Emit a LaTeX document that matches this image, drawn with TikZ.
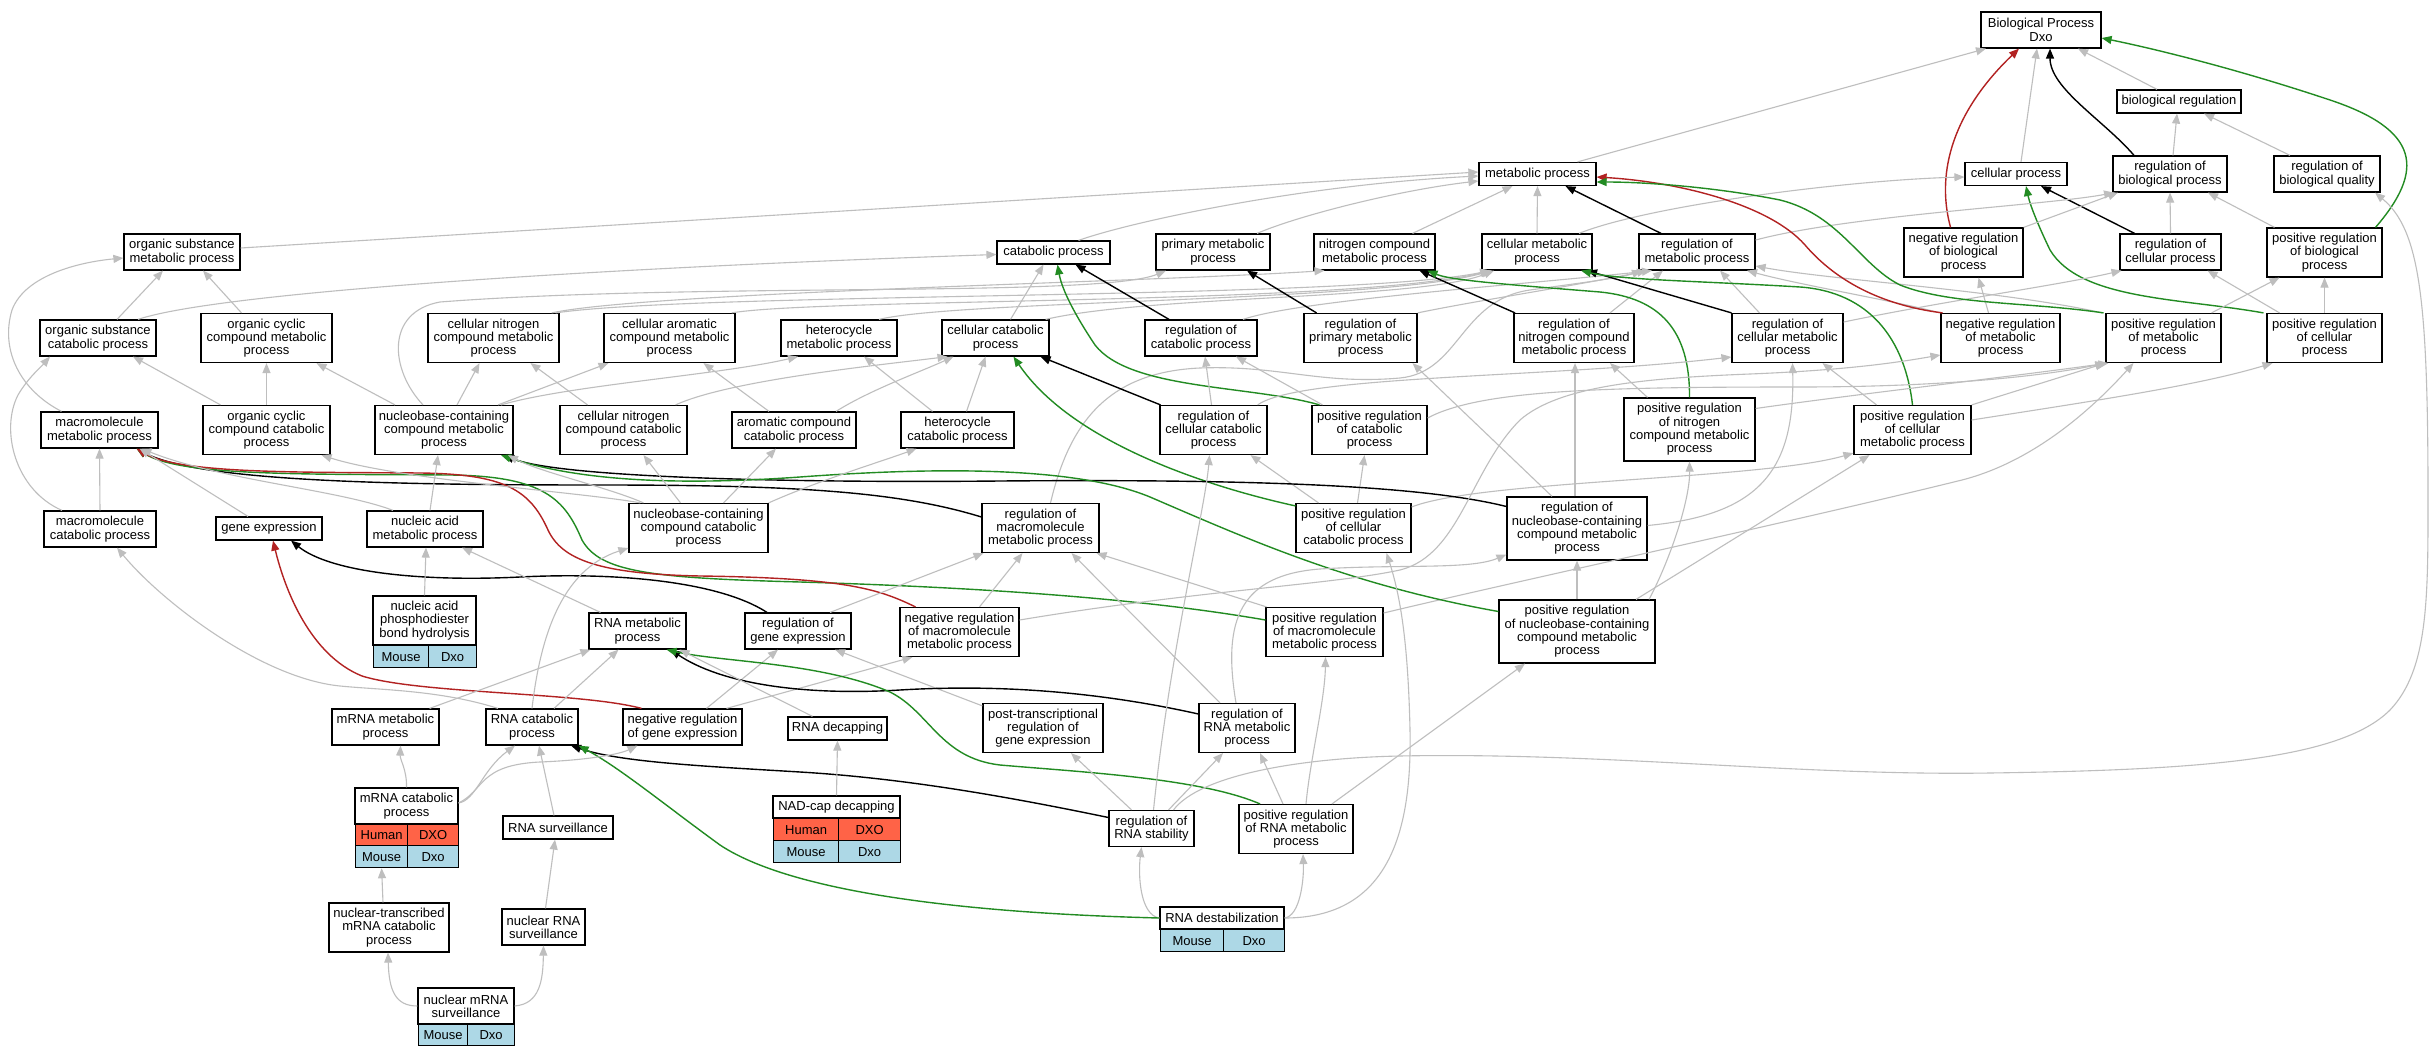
\documentclass[tikz,border=0pt]{standalone}
\usepackage{fontspec}
\setmainfont{Liberation Sans}
\usetikzlibrary{arrows.meta}
\definecolor{edgegray}{RGB}{190,190,190}
\definecolor{edgered}{RGB}{178,34,34}
\definecolor{edgegreen}{RGB}{34,139,34}
\definecolor{tomatoc}{RGB}{255,99,71}
\definecolor{lblue}{RGB}{173,216,230}
\newcommand\mkbox[6]{\node[bx,minimum width=#4pt,minimum height=#5pt] (#1) at (#2,#3) {#6};}
\newcommand\mkcell[7]{\node[bx,anchor=north west,fill=#6,minimum width=#4pt,minimum height=#5pt] (#1) at (#2,#3) {#7};}
\begin{document}
\begin{tikzpicture}[x=1pt,y=-1pt,
  bx/.style={draw=black,line width=1.2pt,fill=white,inner sep=0pt,align=center,font=\fontsize{13}{13.3}\selectfont},
  eGy/.style={draw=edgegray,line width=1.1pt,-{Triangle[length=10pt,width=8pt]}},
  eK/.style={draw=black,line width=1.4pt,-{Triangle[length=10pt,width=8pt]}},
  eR/.style={draw=edgered,line width=1.4pt,-{Triangle[length=10pt,width=8pt]}},
  eGr/.style={draw=edgegreen,line width=1.4pt,-{Triangle[length=10pt,width=8pt]}}]
\fill[white] (0,0) rectangle (2432,1056);
\useasboundingbox (0,0) rectangle (2432,1056);
% ---------- nodes ----------
\mkbox{bp}{2041}{30}{120}{36}{Biological Process\\Dxo}
\mkbox{bioreg}{2179}{101.5}{124}{23}{biological regulation}
\mkbox{met}{1537.5}{174}{117}{23}{metabolic process}
\mkbox{cellp}{2016}{174}{102}{23}{cellular process}
\mkbox{regbp}{2170}{174}{114}{36}{regulation of\\biological process}
\mkbox{regbq}{2327}{174}{106}{36}{regulation of\\biological quality}
\mkbox{osm}{182}{252}{116}{36}{organic substance\\metabolic process}
\mkbox{cat}{1053.5}{252.5}{113}{23}{catabolic process}
\mkbox{prim}{1213}{252}{114}{36}{primary metabolic\\process}
\mkbox{nitro}{1374.5}{252}{121}{36}{nitrogen compound\\metabolic process}
\mkbox{cellmet}{1537}{252}{110}{36}{cellular metabolic\\process}
\mkbox{regmet}{1697}{252}{116}{36}{regulation of\\metabolic process}
\mkbox{negbp}{1963.5}{252.5}{119}{49}{negative regulation\\of biological\\process}
\mkbox{regcp}{2170.5}{252}{101}{36}{regulation of\\cellular process}
\mkbox{posbp}{2324.5}{252.5}{115}{49}{positive regulation\\of biological\\process}
\mkbox{osc}{98}{338}{116}{36}{organic substance\\catabolic process}
\mkbox{occm}{266.5}{338}{131}{49}{organic cyclic\\compound metabolic\\process}
\mkbox{cnm}{493.5}{338}{131}{49}{cellular nitrogen\\compound metabolic\\process}
\mkbox{cacm}{669.5}{338}{131}{49}{cellular aromatic\\compound metabolic\\process}
\mkbox{hetm}{839}{338}{116}{36}{heterocycle\\metabolic process}
\mkbox{cellcat}{995.5}{338}{107}{36}{cellular catabolic\\process}
\mkbox{regcat}{1201}{338}{112}{36}{regulation of\\catabolic process}
\mkbox{regprim}{1360.5}{338}{113}{49}{regulation of\\primary metabolic\\process}
\mkbox{regnit}{1574}{338}{120}{49}{regulation of\\nitrogen compound\\metabolic process}
\mkbox{regcm}{1787.5}{338}{111}{49}{regulation of\\cellular metabolic\\process}
\mkbox{negmet}{2000.5}{338}{119}{49}{negative regulation\\of metabolic\\process}
\mkbox{posmet}{2163.5}{338}{115}{49}{positive regulation\\of metabolic\\process}
\mkbox{poscp}{2324.5}{338}{115}{49}{positive regulation\\of cellular\\process}
\mkbox{macro}{99.5}{430}{117}{36}{macromolecule\\metabolic process}
\mkbox{occc}{266.5}{430}{127}{49}{organic cyclic\\compound catabolic\\process}
\mkbox{nbm}{444}{430}{138}{49}{nucleobase-containing\\compound metabolic\\process}
\mkbox{cncc}{623.5}{430}{127}{49}{cellular nitrogen\\compound catabolic\\process}
\mkbox{acc}{794}{430}{124}{36}{aromatic compound\\catabolic process}
\mkbox{hetc}{957.5}{430}{113}{36}{heterocycle\\catabolic process}
\mkbox{regcc}{1213.5}{430}{107}{49}{regulation of\\cellular catabolic\\process}
\mkbox{poscat}{1369.5}{430}{115}{49}{positive regulation\\of catabolic\\process}
\mkbox{posnit}{1689.5}{429.5}{131}{63}{positive regulation\\of nitrogen\\compound metabolic\\process}
\mkbox{poscm}{1912.5}{430}{117}{49}{positive regulation\\of cellular\\metabolic process}
\mkbox{macrocat}{100}{529}{112}{36}{macromolecule\\catabolic process}
\mkbox{geneexp}{269}{528.5}{106}{23}{gene expression}
\mkbox{nam}{425}{529}{116}{36}{nucleic acid\\metabolic process}
\mkbox{nbc}{698.5}{528}{139}{49}{nucleobase-containing\\compound catabolic\\process}
\mkbox{regmm}{1040.5}{528}{117}{49}{regulation of\\macromolecule\\metabolic process}
\mkbox{poscc}{1353.5}{528}{115}{49}{positive regulation\\of cellular\\catabolic process}
\mkbox{regnb}{1577}{528.5}{140}{63}{regulation of\\nucleobase-containing\\compound metabolic\\process}
\mkbox{naphT}{424.5}{620.5}{103}{49}{nucleic acid\\phosphodiester\\bond hydrolysis}
\mkcell{naphM1}{373}{645}{55}{22}{lblue}{Mouse}
\mkcell{naphM2}{428}{645}{48}{22}{lblue}{Dxo}
\mkbox{rnam}{637.5}{631}{97}{36}{RNA metabolic\\process}
\mkbox{regge}{798}{631}{106}{36}{regulation of\\gene expression}
\mkbox{negmm}{959.5}{632}{119}{49}{negative regulation\\of macromolecule\\metabolic process}
\mkbox{posmm}{1324.5}{632}{117}{49}{positive regulation\\of macromolecule\\metabolic process}
\mkbox{posnb}{1577}{631.5}{156}{63}{positive regulation\\of nucleobase-containing\\compound metabolic\\process}
\mkbox{mrnam}{385.5}{727}{107}{36}{mRNA metabolic\\process}
\mkbox{rnacat}{532}{727}{92}{36}{RNA catabolic\\process}
\mkbox{negge}{682.5}{727}{119}{36}{negative regulation\\of gene expression}
\mkbox{rnadecap}{837.5}{728.5}{99}{23}{RNA decapping}
\mkbox{ptrge}{1043}{728}{120}{49}{post-transcriptional\\regulation of\\gene expression}
\mkbox{regrna}{1247}{728}{96}{49}{regulation of\\RNA metabolic\\process}
\mkbox{mrnacatT}{406.5}{806}{103}{36}{mRNA catabolic\\process}
\mkcell{mrnacatH1}{355}{824}{52}{21}{tomatoc}{Human}
\mkcell{mrnacatH2}{407}{824}{51}{21}{tomatoc}{DXO}
\mkcell{mrnacatM1}{355}{845}{52}{22}{lblue}{Mouse}
\mkcell{mrnacatM2}{407}{845}{51}{22}{lblue}{Dxo}
\mkbox{nadcapT}{836.5}{807}{127}{22}{NAD-cap decapping}
\mkcell{nadcapH1}{773}{818}{65}{22}{tomatoc}{Human}
\mkcell{nadcapH2}{838}{818}{62}{22}{tomatoc}{DXO}
\mkcell{nadcapM1}{773}{840}{65}{22}{lblue}{Mouse}
\mkcell{nadcapM2}{838}{840}{62}{22}{lblue}{Dxo}
\mkbox{rnasurv}{558}{827.5}{110}{23}{RNA surveillance}
\mkbox{regrnastab}{1151.5}{828.5}{85}{36}{regulation of\\RNA stability}
\mkbox{posrna}{1296}{829}{114}{49}{positive regulation\\of RNA metabolic\\process}
\mkbox{ntmrna}{389}{927.5}{120}{49}{nuclear-transcribed\\mRNA catabolic\\process}
\mkbox{nrs}{543.5}{927}{83}{36}{nuclear RNA\\surveillance}
\mkbox{rnadestabT}{1222}{918}{124}{22}{RNA destabilization}
\mkcell{rnadestabM1}{1160}{929}{63}{22}{lblue}{Mouse}
\mkcell{rnadestabM2}{1223}{929}{61}{22}{lblue}{Dxo}
\mkbox{nmrnasT}{466}{1006}{96}{36}{nuclear mRNA\\surveillance}
\mkcell{nmrnasM1}{418}{1024}{49}{21}{lblue}{Mouse}
\mkcell{nmrnasM2}{467}{1024}{47}{21}{lblue}{Dxo}
% ---------- edges: top ----------
\draw[eGy] ([xshift=40pt]met.north) -- ([xshift=-55pt]bp.south);
\draw[eGy] ([xshift=5pt]cellp.north) -- ([xshift=-4pt]bp.south);
\draw[eGy] ([xshift=-22pt]bioreg.north) -- ([xshift=37pt]bp.south);
\draw[eK] ([xshift=-36pt]regbp.north) .. controls +(-30,-35) and +(0,40) .. ([xshift=9pt]bp.south);
\draw[eR] ([xshift=-13pt]negbp.north) .. controls (1935,170) and (1955,110) .. ([xshift=-22pt]bp.south);
\draw[eGr] ([xshift=51pt]posbp.north) .. controls (2425,170) and (2420,130) .. (2330,100) .. controls (2240,70) and (2160,50) .. ([yshift=-8pt]bp.east);
\draw[eGy] ([xshift=3pt]regbp.north) -- ([xshift=-2pt]bioreg.south);
\draw[eGy] ([xshift=-37pt]regbq.north) -- ([xshift=25pt]bioreg.south);
\draw[eK] ([xshift=-36pt]regcp.north) -- ([xshift=25pt]cellp.south);
\draw[eGr] ([xshift=-3pt]poscp.north west) .. controls (2180,298) and (2080,300) .. (2050,250) .. controls (2038,225) and (2030,205) .. ([xshift=10pt]cellp.south);
\draw[eGy] ([xshift=42pt]cellmet.north) .. controls (1650,205) and (1850,180) .. ([yshift=-3pt]cellp.west);
\draw[eGy] (regcp.north) -- (regbp.south);
\draw[eGy] (negbp.north east) -- ([xshift=-52pt]regbp.south);
\draw[eGy] ([xshift=-50pt]posbp.north) -- ([xshift=38pt]regbp.south);
\draw[eGy] ([yshift=12pt]regmet.east) .. controls (1850,215) and (2050,205) .. ([xshift=-56pt]regbp.south);
\draw[eGy] ([xshift=-45pt]poscp.north) -- ([xshift=37pt]regcp.south);
\draw[eGy] (poscp.north) -- (posbp.south);
\draw[eGy] ([xshift=48pt]posmet.north) -- ([xshift=-45pt]posbp.south);
\draw[eGy] ([yshift=16pt]regcm.east) .. controls (1950,300) and (2060,285) .. ([xshift=-49pt]regcp.south);
\draw[eGy] ([xshift=-12pt]negmet.north) -- ([xshift=15pt]negbp.south);
\draw[eGy] ([xshift=-3pt]posmet.north west) .. controls (2000,290) and (1830,280) .. ([yshift=-14pt]regmet.east);
\draw[eGy] (negmet.north west) .. controls (1890,300) and (1800,285) .. ([xshift=50pt]regmet.south);
\draw[eGy] ([xshift=-28pt]regcm.north) -- ([xshift=23pt]regmet.south);
\draw[eGy] ([xshift=36pt]regnit.north) -- ([xshift=-34pt]regmet.south);
\draw[eGy] ([xshift=10pt]regmm.north) .. controls (1070,420) and (1110,372) .. (1200,368) .. controls (1280,365) and (1320,385) .. (1400,378) .. controls (1460,372) and (1460,300) .. (1530,290) .. controls (1580,283) and (1620,278) .. ([xshift=-55pt]regmet.south);
\draw[eGy] (regprim.north east) .. controls (1480,300) and (1580,285) .. ([xshift=-50pt]regmet.south);
\draw[eGy] ([xshift=42pt]regcat.north) .. controls (1300,300) and (1520,285) .. ([xshift=-45pt]regmet.south);
\draw[eK] ([xshift=-36pt]regmet.north) -- ([xshift=28pt]met.south);
\draw[eR] ([xshift=-58pt]negmet.north) .. controls (1880,305) and (1835,280) .. (1805,245) .. controls (1770,205) and (1680,182) .. ([yshift=-3pt]met.east);
\draw[eGr] ([xshift=-60pt]posmet.north) .. controls (2030,302) and (1950,305) .. (1900,285) .. controls (1860,265) and (1840,215) .. (1780,200) .. controls (1720,188) and (1650,182) .. ([yshift=-8pt]met.east);
\draw[eGy] (cellmet.north) -- (met.south);
\draw[eGy] ([xshift=38pt]nitro.north) -- ([xshift=-25pt]met.south);
\draw[eGy] ([xshift=44pt]prim.north) .. controls (1300,215) and (1400,190) .. ([yshift=-7pt]met.west);
\draw[eGy] ([xshift=25pt]cat.north) .. controls (1130,222) and (1300,185) .. ([yshift=-2pt]met.west);
\draw[eGy] ([yshift=4pt]osm.east) -- ([yshift=2pt]met.west);
% ---------- row 4/5 ----------
\draw[eGy] ([xshift=19pt]osc.north) -- ([xshift=-19pt]osm.south);
\draw[eGy] ([xshift=-25pt]occm.north) -- ([xshift=21pt]osm.south);
\draw[eGy] ([xshift=40pt]osc.north) .. controls (220,292) and (600,268) .. ([yshift=-2pt]cat.west);
\draw[eGy] ([xshift=-38pt]macro.north) .. controls (20,390) and (0,350) .. (12,310) .. controls (25,275) and (80,262) .. ([yshift=-6pt]osm.west);
\draw[eGy] ([xshift=-38pt]macrocat.north) .. controls (15,490) and (0,430) .. (18,395) .. controls (28,378) and (40,368) .. ([xshift=-48pt]osc.south);
\draw[eGy] (macrocat.north) -- (macro.south);
\draw[eGy] (occc.north) -- (occm.south);
\draw[eGy] ([xshift=-46pt]occc.north) -- ([xshift=35pt]osc.south);
\draw[eGy] ([xshift=-49pt]nbm.north) -- ([xshift=50pt]occm.south);
\draw[eGy] ([xshift=13pt]nbm.north) -- ([xshift=-14pt]cnm.south);
\draw[eGy] ([xshift=54pt]nbm.north) -- ([xshift=-61pt]cacm.south);
\draw[eGy] ([xshift=57pt]nbm.north) .. controls (570,385) and (720,375) .. ([xshift=-41pt]hetm.south);
\draw[eGy] ([xshift=-21pt]nbm.north) .. controls (390,370) and (385,312) .. (440,302) .. controls (700,282) and (1100,298) .. ([xshift=-47pt]prim.south);
\draw[eGy] ([xshift=-8pt]cnm.north east) .. controls (650,292) and (1150,282) .. ([xshift=-50pt]nitro.south);
\draw[eGy] ([xshift=-4pt]cnm.north east) .. controls (700,292) and (1350,300) .. ([xshift=-47pt]cellmet.south);
\draw[eGy] ([xshift=-4pt]cacm.north east) .. controls (820,298) and (1350,305) .. ([xshift=-46pt]cellmet.south);
\draw[eGy] ([xshift=40pt]hetm.north) .. controls (960,300) and (1380,302) .. ([xshift=-45pt]cellmet.south);
\draw[eGy] ([xshift=-4pt]cellcat.north east) .. controls (1150,295) and (1420,300) .. ([xshift=-43pt]cellmet.south);
\draw[eGy] ([xshift=15pt]cellcat.north) -- ([xshift=-10pt]cat.south);
\draw[eGy] ([xshift=-36pt]cncc.north) -- ([xshift=37pt]cnm.south);
\draw[eGy] ([xshift=-12pt]cncc.north east) .. controls (730,380) and (880,365) .. ([xshift=-48pt]cellcat.south);
\draw[eGy] ([xshift=-25pt]acc.north) -- ([xshift=34pt]cacm.south);
\draw[eGy] ([xshift=42pt]acc.north) .. controls (870,390) and (920,372) .. ([xshift=-42pt]cellcat.south);
\draw[eGy] ([xshift=-25pt]hetc.north) -- ([xshift=25pt]hetm.south);
\draw[eGy] ([xshift=9pt]hetc.north) -- ([xshift=-10pt]cellcat.south);
\draw[eK] ([xshift=-53pt]regcc.north) -- ([xshift=45pt]cellcat.south);
\draw[eGr] ([yshift=-3pt]poscc.north west) .. controls (1200,485) and (1070,440) .. ([xshift=18pt]cellcat.south);
\draw[eK] ([xshift=-32pt]regcat.north) -- ([xshift=22pt]cat.south);
\draw[eGr] ([xshift=-50pt]poscat.north) .. controls (1250,385) and (1130,390) .. (1095,345) .. controls (1075,315) and (1062,290) .. ([xshift=4pt]cat.south);
\draw[eK] ([xshift=-44pt]regprim.north) -- ([xshift=34pt]prim.south);
\draw[eK] ([xshift=-59pt]regnit.north) -- ([xshift=45pt]nitro.south);
\draw[eGr] (posnit.north) .. controls (1690,330) and (1660,298) .. (1600,292) .. controls (1500,284) and (1450,280) .. ([xshift=53pt]nitro.south);
\draw[eK] ([xshift=-56pt]regcm.north) -- ([xshift=50pt]cellmet.south);
\draw[eGr] (poscm.north) .. controls (1905,340) and (1870,292) .. (1800,287) .. controls (1700,281) and (1620,280) .. ([xshift=44pt]cellmet.south);
\draw[eGy] ([xshift=-2pt]regcc.north) -- ([xshift=4pt]regcat.south);
\draw[eGy] ([xshift=-10pt]regcc.north east) .. controls (1300,375) and (1550,378) .. ([yshift=-19pt]regcm.west);
\draw[eGy] ([xshift=-47pt]poscat.north) -- ([xshift=35pt]regcat.south);
\draw[eGy] ([yshift=12pt]poscat.east) .. controls (1480,390) and (1600,387) .. (1800,387) .. controls (1950,387) and (2050,375) .. (posmet.south west);
\draw[eGy] ([xshift=-42pt]posnit.north) -- ([xshift=36pt]regnit.south);
\draw[eGy] ([yshift=21pt]posnit.east) .. controls (1850,395) and (2000,378) .. ([xshift=-55pt]posmet.south);
\draw[eGy] ([xshift=-36pt]poscm.north) -- ([xshift=35pt]regcm.south);
\draw[eGy] (poscm.north east) -- ([xshift=-58pt]posmet.south);
\draw[eGy] ([yshift=10pt]poscm.east) .. controls (2100,400) and (2200,385) .. ([xshift=-52pt]poscp.south);
\draw[eGy] ([yshift=19pt]posmm.east) .. controls (1500,585) and (1800,520) .. (1962,480) .. controls (2040,460) and (2100,400) .. ([xshift=-30pt]posmet.south);
\draw[eGy] ([yshift=21pt]poscc.east) .. controls (1480,480) and (1760,480) .. ([yshift=2pt]poscm.south west);
\draw[eGy] ([xshift=59pt]posnb.north) -- ([xshift=-43pt]poscm.south);
\draw[eGy] ([xshift=4pt]poscc.north) -- ([xshift=-5pt]poscat.south);
\draw[eGy] ([xshift=-35pt]poscc.north) -- ([xshift=37pt]regcc.south);
% ---------- row 6/7 ----------
\draw[eGy] ([xshift=-2pt]regnb.north) -- ([xshift=1pt]regnit.south);
\draw[eGy] ([xshift=-25pt]regnb.north) -- ([xshift=52pt]regprim.south);
\draw[eGy] ([yshift=3pt]regnb.east) .. controls (1760,515) and (1795,470) .. ([xshift=5pt]regcm.south);
\draw[eK] ([yshift=22pt]regnb.west) .. controls (1420,485) and (1250,479) .. (1000,481) .. controls (800,483) and (560,478) .. ([xshift=60pt]nbm.south);
\draw[eK] ([yshift=11pt]regmm.west) .. controls (900,492) and (800,485) .. (600,485) .. controls (400,485) and (200,482) .. ([xshift=37pt]macro.south);
\draw[eGy] (posnb.north) -- (regnb.south);
\draw[eGy] ([xshift=72pt]posnb.north) .. controls (1670,560) and (1690,500) .. (posnit.south);
\draw[eGr] ([yshift=20pt]posnb.west) .. controls (1350,585) and (1250,540) .. (1150,497) .. controls (1080,468) and (950,466) .. (800,477) .. controls (660,487) and (570,478) .. ([xshift=57pt]nbm.south);
\draw[eGy] ([xshift=-58pt]posmm.north) -- ([xshift=56pt]regmm.south);
\draw[eGr] ([yshift=12pt]posmm.west) .. controls (1150,600) and (1000,588) .. (800,582) .. controls (650,578) and (600,572) .. (582,540) .. controls (565,500) and (545,476) .. (450,475) .. controls (300,474) and (180,476) .. ([xshift=37pt]macro.south);
\draw[eR] ([xshift=-44pt]negmm.north) .. controls (880,590) and (850,578) .. (700,576) .. controls (600,574) and (562,560) .. (548,530) .. controls (530,490) and (505,474) .. (420,473) .. controls (300,472) and (180,474) .. ([xshift=37pt]macro.south);
\draw[eGy] ([xshift=20pt]negmm.north) -- ([xshift=-18pt]regmm.south);
\draw[eGy] ([yshift=12pt]negmm.east) .. controls (1200,590) and (1330,585) .. (1400,570) .. controls (1460,555) and (1470,470) .. (1520,420) .. controls (1560,385) and (1650,378) .. (1750,374) .. controls (1850,370) and (1900,362) .. ([yshift=-17pt]negmet.west);
\draw[eR] ([xshift=-41pt]negge.north) .. controls (580,692) and (420,694) .. (362,676) .. controls (310,655) and (285,590) .. ([xshift=4pt]geneexp.south);
\draw[eGy] ([xshift=24pt]negge.north) -- ([xshift=-20pt]regge.south);
\draw[eGy] ([xshift=44pt]negge.north) -- ([xshift=-47pt]negmm.south);
\draw[eK] ([xshift=-31pt]regge.north) .. controls (720,582) and (620,572) .. (520,577) .. controls (420,582) and (330,572) .. ([xshift=22pt]geneexp.south);
\draw[eGy] ([xshift=32pt]regge.north) -- ([xshift=-57pt]regmm.south);
\draw[eGy] ([yshift=-3pt]ptrge.north west) -- ([xshift=37pt]regge.south);
\draw[eK] ([yshift=14pt]regrna.west) .. controls (1100,692) and (1000,684) .. (900,690) .. controls (800,696) and (720,683) .. ([xshift=33pt]rnam.south);
\draw[eGr] ([xshift=-36pt]posrna.north) .. controls (1200,778) and (1080,772) .. (1000,765) .. controls (940,758) and (930,712) .. (890,692) .. controls (820,662) and (720,662) .. ([xshift=29pt]rnam.south);
\draw[eGy] ([xshift=-25pt]rnadecap.north) -- ([xshift=42pt]rnam.south);
\draw[eGy] ([xshift=-10pt]mrnam.north east) -- ([xshift=2pt]rnam.south west);
\draw[eGy] ([xshift=22pt]rnacat.north) -- ([xshift=-19pt]rnam.south);
\draw[eGy] (rnacat.north) .. controls (540,640) and (560,570) .. ([yshift=-20pt]nbc.west);
\draw[eGy] ([xshift=-34pt]rnacat.north) .. controls (440,690) and (380,690) .. (340,686) .. controls (260,678) and (160,600) .. ([xshift=17pt]macrocat.south);
\draw[eGy] ([xshift=-37pt]rnam.north) -- ([xshift=37pt]nam.south);
\draw[eGy] (naphT.north) -- ([xshift=1pt]nam.south);
\draw[eGy] ([xshift=5pt]nam.north) -- ([xshift=-6pt]nbm.south);
\draw[eGy] ([xshift=-32pt]nam.north) .. controls (340,490) and (220,480) .. ([xshift=42pt]macro.south);
\draw[eGy] ([xshift=-21pt]geneexp.north) -- ([xshift=40pt]macro.south);
\draw[eGy] ([xshift=-58pt]nbc.north) .. controls (580,492) and (400,480) .. ([xshift=55pt]occc.south);
\draw[eGy] ([xshift=-55pt]nbc.north) .. controls (610,488) and (540,472) .. ([xshift=64pt]nbm.south);
\draw[eGy] ([xshift=-18pt]nbc.north) -- ([xshift=20pt]cncc.south);
\draw[eGy] ([xshift=25pt]nbc.north) -- ([xshift=-18pt]acc.south);
\draw[eGy] (nbc.north east) .. controls (820,480) and (880,462) .. ([xshift=-41pt]hetc.south);
\draw[eGy] ([xshift=-27pt]regrna.north) -- ([xshift=31pt]regmm.south);
\draw[eGy] ([xshift=-11pt]regrna.north) .. controls (1222,620) and (1240,575) .. (1320,569) .. controls (1400,564) and (1470,570) .. ([yshift=-26pt]regnb.west);
% ---------- lower rows ----------
\draw[eGy] ([xshift=-13pt]posrna.north) -- ([xshift=13pt]regrna.south);
\draw[eGy] ([xshift=10pt]posrna.north) .. controls (1310,760) and (1325,700) .. ([xshift=1pt]posmm.south);
\draw[eGy] ([xshift=36pt]posrna.north) -- ([xshift=-52pt]posnb.south);
\draw[eGy] ([xshift=17pt]regrnastab.north) -- ([xshift=-24pt]regrna.south);
\draw[eGy] ([xshift=-20pt]regrnastab.north) -- ([xshift=28pt]ptrge.south);
\draw[eGy] ([xshift=2pt]regrnastab.north) .. controls (1170,650) and (1205,510) .. ([xshift=-4pt]regcc.south);
\draw[eGy] ([xshift=22pt]regrnastab.north) .. controls (1200,775) and (1300,758) .. (1400,756) .. controls (1600,752) and (1800,776) .. (1990,773) .. controls (2200,770) and (2340,760) .. (2390,710) .. controls (2428,670) and (2428,600) .. (2428,500) .. controls (2428,300) and (2420,230) .. ([xshift=48pt]regbq.south);
\draw[eK] ([yshift=11pt]regrnastab.west) .. controls (1000,795) and (900,778) .. (800,772) .. controls (700,766) and (620,762) .. ([xshift=39pt]rnacat.south);
\draw[eGy] (rnadestabT.west) .. controls (1140,915) and (1138,875) .. ([xshift=-10pt]regrnastab.south);
\draw[eGy] (rnadestabT.east) .. controls (1300,916) and (1304,880) .. ([xshift=7pt]posrna.south);
\draw[eGy] (rnadestabT.east) .. controls (1390,918) and (1412,830) .. (1410,730) .. controls (1408,640) and (1400,595) .. ([xshift=33pt]poscc.south);
\draw[eGr] (rnadestabT.west) .. controls (1000,914) and (800,898) .. (720,845) .. controls (665,805) and (620,768) .. (rnacat.south east);
\draw[eGy] (mrnacatT.north) .. controls (407,770) and (400,760) .. ([xshift=15pt]mrnam.south);
\draw[eGy] ([yshift=3pt]mrnacatT.east) .. controls (476,800) and (482,770) .. ([xshift=-17pt]rnacat.south);
\draw[eGy] ([yshift=3pt]mrnacatT.east) .. controls (485,790) and (478,765) .. (540,762) .. controls (590,760) and (620,754) .. ([xshift=-45pt]negge.south);
\draw[eGy] ([xshift=-4pt]rnasurv.north) -- ([xshift=7pt]rnacat.south);
\draw[eGy] ([xshift=-6pt]ntmrna.north) -- (mrnacatM1.south);
\draw[eGy] ([xshift=2pt]nrs.north) -- ([xshift=-3pt]rnasurv.south);
\draw[eGy] (nmrnasT.west) .. controls (395,1006) and (389,990) .. ([xshift=-1pt]ntmrna.south);
\draw[eGy] (nmrnasT.east) .. controls (540,1004) and (543,980) .. (nrs.south);
\draw[eGy] (nadcapT.north) -- (rnadecap.south);
\end{tikzpicture}
\end{document}
